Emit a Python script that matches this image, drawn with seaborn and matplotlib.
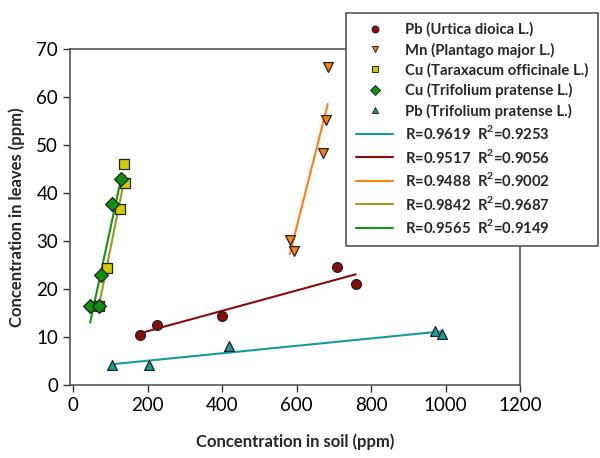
import numpy as np
import pandas as pd
import matplotlib
matplotlib.use("Agg")
import matplotlib.pyplot as plt
from matplotlib.lines import Line2D
import seaborn as sns

# Soil / leaf concentrations (ppm)
pb_urtica_soil = [179, 226, 400, 708, 759]
pb_urtica_leaf = [10.4, 12.6, 14.4, 24.6, 21.0]

mn_plantago_soil = [582, 592, 671, 680, 684]
mn_plantago_leaf = [30.2, 28.0, 48.3, 55.3, 66.2]

cu_taraxacum_soil = [69, 90, 127, 140, 137]
cu_taraxacum_leaf = [16.5, 24.3, 36.7, 42.0, 46.0]

cu_trifolium_soil = [46, 71, 75, 106, 130]
cu_trifolium_leaf = [16.4, 16.5, 22.9, 37.7, 43.0]

pb_trifolium_soil = [106, 205, 420, 971, 991]
pb_trifolium_leaf = [4.2, 4.2, 8.2, 11.25, 10.55]

series_names = ["Pb (Urtica dioica L.)", "Mn (Plantago major L.)",
                "Cu (Taraxacum officinale L.)", "Cu (Trifolium pratense L.)",
                "Pb (Trifolium pratense L.)"]
fit_labels = ["R=0.9619  R$^\\mathbf{2}$=0.9253", "R=0.9517  R$^\\mathbf{2}$=0.9056",
              "R=0.9488  R$^\\mathbf{2}$=0.9002", "R=0.9842  R$^\\mathbf{2}$=0.9687",
              "R=0.9565  R$^\\mathbf{2}$=0.9149"]

sns.set_style("ticks")
plt.rcParams['font.family'] = ['Lato', 'DejaVu Sans']
plt.rcParams['mathtext.fontset'] = 'custom'
plt.rcParams['mathtext.bf'] = 'Lato:bold'
plt.rcParams['mathtext.rm'] = 'Lato:bold'

fig = plt.figure(figsize=(6, 4.58), dpi=100)
ax = fig.add_axes([0.1167, 0.1594, 0.75, 0.7336])

# (name, soil, leaf, marker, face colour, line colour)
series = [
    (series_names[0], pb_urtica_soil, pb_urtica_leaf, 'o', '#8b0a0a', '#8b0a0a'),
    (series_names[1], mn_plantago_soil, mn_plantago_leaf, 'v', '#ff8010', '#ff8010'),
    (series_names[2], cu_taraxacum_soil, cu_taraxacum_leaf, 's', '#d0cc00', '#9c9a1c'),
    (series_names[3], cu_trifolium_soil, cu_trifolium_leaf, 'D', '#109010', '#169016'),
    (series_names[4], pb_trifolium_soil, pb_trifolium_leaf, '^', '#1a9a9a', '#129c9c'),
]

# trend lines first (under the markers)
for name, xs, ys, mk, fc, lc in series:
    df = pd.DataFrame({'soil': xs, 'leaf': ys})
    sns.regplot(data=df, x='soil', y='leaf', scatter=False, ci=None, truncate=True,
                color=lc, line_kws={'lw': 1.5, 'zorder': 2}, ax=ax)

for name, xs, ys, mk, fc, lc in series:
    df = pd.DataFrame({'soil': xs, 'leaf': ys})
    sns.scatterplot(data=df, x='soil', y='leaf', marker=mk, color=fc, s=50,
                    edgecolor='#222222', linewidth=0.9, zorder=3, ax=ax)

ax.set_xlim(-8, 1200)
ax.set_ylim(0, 70)
ax.set_xticks(np.arange(0, 1201, 200))
ax.set_yticks(np.arange(0, 71, 10))
ax.tick_params(direction='out', length=5, width=1, colors='#333333', labelsize=13.5,
               labelcolor='black')
for sp in ax.spines.values():
    sp.set_visible(True)
    sp.set_color('#555555')
    sp.set_linewidth(1.2)

ax.set_xlabel("Concentration in soil (ppm)", fontsize=12, fontweight='bold', labelpad=14)
ax.set_ylabel("Concentration in leaves (ppm)", fontsize=12, fontweight='bold', labelpad=8)

# legend: markers then fitted lines (teal, red, orange, olive, green)
handles = []
for name, xs, ys, mk, fc, lc in series:
    handles.append(Line2D([], [], ls='none', marker=mk, markerfacecolor=fc,
                          markeredgecolor='#222222', markeredgewidth=0.7, markersize=5))
line_order = [4, 0, 1, 2, 3]
for i in line_order:
    handles.append(Line2D([], [], color=series[i][5], lw=1.5))
labels = series_names + fit_labels

leg = fig.legend(handles, labels, loc='upper right', bbox_to_anchor=(0.997, 0.972),
                 frameon=True, fancybox=False, framealpha=1, edgecolor='#555555',
                 prop={'family': 'Lato', 'weight': 'bold', 'size': 10.7},
                 handlelength=2.5, handletextpad=0.8, labelspacing=0.37,
                 borderpad=0.65, borderaxespad=0)
leg.get_frame().set_linewidth(1.2)

fig.savefig("out.png", dpi=100)
